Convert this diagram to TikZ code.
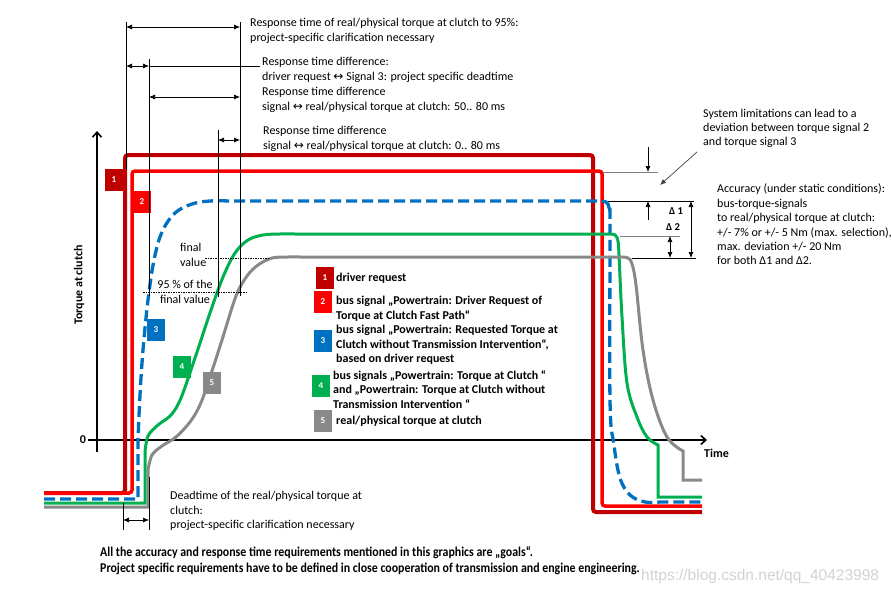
\documentclass[tikz,border=0pt]{standalone}
\usepackage{fontspec}
\setmainfont{Carlito}
\newfontfamily\narrowfont[FakeStretch=0.88]{Carlito}
\newfontfamily\symfont{DejaVu Sans}
\newfontfamily\wmfont{Liberation Sans}
\usetikzlibrary{arrows.meta}
\usetikzlibrary{positioning}
\definecolor{drvred}{HTML}{C00000}
\definecolor{busred}{HTML}{FF0000}
\definecolor{busblue}{HTML}{0070C0}
\definecolor{busgreen}{HTML}{00B050}
\definecolor{realgray}{HTML}{898989}
\newcommand{\lrarr}{{\symfont\char"2194}}
\tikzset{chartaxis/.style = {-{Straight Barb[length=5pt,width=9pt]}, line width=1.6pt},
         dim/.style = {{Latex[length=6pt,width=5pt]}-{Latex[length=6pt,width=5pt]}, line width=0.7pt},
         pointer/.style = {-{Latex[length=6pt,width=5pt]}, line width=0.7pt},
         guide/.style = {line width=0.6pt},
         cutline/.style = {line width=0.6pt, dash pattern=on 1.5pt off 1pt},
         sigone/.style = {line width=4pt, drvred, rounded corners=3pt},
         sigtwo/.style = {line width=3.5pt, busred, rounded corners=3pt},
         sigthree/.style = {line width=3.3pt, busblue, dash pattern=on 11pt off 5pt},
         sigfour/.style = {line width=3pt, busgreen},
         sigfive/.style = {line width=3pt, realgray},
         note/.style = {font=\fontsize{12}{15}\selectfont, align=left, inner sep=0pt, anchor=north west},
         legtext/.style = {font=\bfseries\fontsize{12}{14.5}\selectfont, align=left, inner sep=0pt, anchor=north west},
         numbox/.style = {fill=#1, text=white, font=\bfseries\fontsize{9}{9}\selectfont, minimum width=18pt, minimum height=22pt, inner sep=0pt},
         axlabel/.style = {font=\bfseries\fontsize{12}{12}\selectfont, inner sep=0pt}}

\begin{document}
\begin{tikzpicture}[x=1pt,y=-1pt]
  \useasboundingbox (0,0) rectangle (891,594);

  % axes
  \draw[chartaxis] (97,452) -- (97,131);
  \draw[chartaxis] (88,440) -- (707,440);
  \node[axlabel,rotate=90] (ylab) at (79,285) {Torque at clutch};
  \node[axlabel,anchor=west] (xlab) at (704,453) {Time};
  \node[axlabel] (zero) at (83,440) {0};

  % signals
  \draw[sigone] (44,493) -- (125,493) -- (125,155) -- (593,155) -- (593,512) -- (702,512);
  \draw[sigtwo] (44,493) -- (132,493) -- (132,171) -- (602,171) -- (602,506) -- (702,506);
  \draw[sigthree] (44,499) -- (138,499) -- plot[smooth,tension=0.6] coordinates {(138,440) (140,395) (143,350) (148,300) (154,260) (162,232) (175,213) (192,204) (210,201) (230,201)}
        -- plot[smooth,tension=0.6] coordinates {(598,201) (606,202) (609,208) (610,225) (610,400) (614,445) (620,478) (630,495) (645,502) (660,502)} -- (702,502);
  \draw[sigfour] (44,503) -- (145,503) -- plot[smooth,tension=0.55] coordinates {(145,452) (148,436) (158,425) (171,415) (181,398) (196,355) (211,310) (223,277) (235,253) (248,240) (263,235) (280,234) (295,234)}
        -- plot[smooth,tension=0.6] coordinates {(608,234) (615,235) (618,241) (619,255) (622,317) (627,383) (637,417) (647,437) (658,445)} -- (658,497) -- (702,497);
  \draw[sigfive] (44,507) -- (148,507) -- plot[smooth,tension=0.55] coordinates {(148,470) (152,455) (162,446) (176,437) (190,422) (200,405) (209,380) (222,340) (236,296) (247,276) (258,265) (272,258) (288,257) (300,257)}
        -- plot[smooth,tension=0.6] coordinates {(620,257) (628,258) (632,264) (636,285) (643,350) (653,400) (667,437) (683,451)} -- (683,480) -- (702,480);

  % signal tags
  \node[numbox=drvred] (n1) at (114,180) {1};
  \node[numbox=busred] (n2) at (142,202) {2};
  \node[numbox=busblue] (n3) at (156,330) {3};
  \node[numbox=busgreen] (n4) at (182,367) {4};
  \node[numbox=realgray] (n5) at (212,383) {5};

  % legend
  \node[numbox=drvred] (l1) at (325,278) {1};
  \node[numbox=busred] (l2) at (323,302) {2};
  \node[numbox=busblue] (l3) at (323,341) {3};
  \node[numbox=busgreen] (l4) at (321,386) {4};
  \node[numbox=realgray] (l5) at (323,421) {5};
  \node[legtext,anchor=west] (t1) at (336,278) {driver request};
  \node[legtext] (t2) at (336,296) {bus signal „Powertrain: Driver Request of\\Torque at Clutch Fast Path“};
  \node[legtext] (t3) at (336,325) {bus signal „Powertrain: Requested Torque at\\Clutch without Transmission Intervention“,\\based on driver request};
  \node[legtext] (t4) at (333,370) {bus signals „Powertrain: Torque at Clutch “\\and „Powertrain: Torque at Clutch without\\Transmission Intervention “};
  \node[legtext,anchor=west] (t5) at (336,421) {real/physical torque at clutch};

  % response times
  \coordinate (req) at (126,22);
  \coordinate (sig) at (149,59);
  \coordinate (bus) at (218,130);
  \coordinate (act) at (240,22);
  \draw[guide] (req) -- (126,170);
  \draw[guide] (sig) -- (149,296);
  \draw[guide] (bus) -- (218,297);
  \draw[guide] (act) -- (240,296);
  \draw[dim] (req |- 0,27) -- (act |- 0,27);
  \draw[dim] (req |- 0,66) -- (sig |- 0,66);
  \draw[guide] (sig |- 0,66) -- (260,66);
  \draw[dim] (sig |- 0,97) -- (act |- 0,97);
  \draw[dim] (bus |- 0,140) -- (act |- 0,140);
  \node[note] (resp95) at (250,18) {Response time of real/physical torque at clutch to 95\%:\\project-specific clarification necessary};
  \node[note] (deadsig) at (262,57) {Response time difference:\\driver request \lrarr\ Signal 3: project specific deadtime};
  \node[note] (respa) at (262,87) {Response time difference\\signal \lrarr\ real/physical torque at clutch: 50.. 80 ms};
  \node[note] (respb) at (263,126) {Response time difference\\signal \lrarr\ real/physical torque at clutch: 0.. 80 ms};

  % final value marks
  \draw[cutline] (205,258) -- (270,258);
  \draw[cutline] (143,292) -- (247,292);
  \node[note] (finalv) at (180,243) {final\\value};
  \node[note,anchor=north,align=center] (pct95) at (185,280) {95 \% of the\\final value};

  % accuracy
  \draw[guide,gray] (603,172) -- (658,172);
  \draw[guide] (608,201) -- (694,201);
  \draw[guide,gray] (620,236) -- (680,236);
  \draw[guide] (632,258) -- (696,258);
  \coordinate (lima) at (648,147);
  \coordinate (limb) at (648,220);
  \draw[pointer] (lima) -- (648,172);
  \draw[pointer] (limb) -- (648,201);
  \draw[dim] (691,201) -- (691,258);
  \draw[dim] (670,236) -- (670,258);
  \node[axlabel,font=\bfseries\fontsize{10.5}{10.5}\selectfont] (d1) at (676,211) {Δ 1};
  \node[axlabel,font=\bfseries\fontsize{10.5}{10.5}\selectfont] (d2) at (673,227) {Δ 2};
  \node[note,font=\fontsize{12}{14}\selectfont] (syslim) at (703,109) {System limitations can lead to a\\deviation between torque signal 2\\and torque signal 3};
  \coordinate (syshint) at (660,185);
  \draw[pointer,darkgray] (697,152) -- (syshint);
  \node[note,font=\fontsize{12}{14.4}\selectfont] (accur) at (717,184) {Accuracy (under static conditions):\\bus-torque-signals\\to real/physical torque at clutch:\\+/- 7\% or +/- 5 Nm (max. selection),\\max. deviation +/- 20 Nm\\for both Δ1 and Δ2.};

  % dead time
  \coordinate (dta) at (123,503);
  \coordinate (dtb) at (149,477);
  \draw[guide] (dta) -- (123,530);
  \draw[guide] (dtb) -- (149,530);
  \draw[dim] (dta |- 0,520) -- (dtb |- 0,520);
  \node[note,font=\fontsize{12}{14.5}\selectfont] (deadt) at (170,491) {Deadtime of the real/physical torque at\\clutch:\\project-specific clarification necessary};

  % remarks
  \node[note,font=\narrowfont\bfseries\fontsize{13.5}{16}\selectfont] (goals) at (100,546) {All the accuracy and response time requirements mentioned in this graphics are „goals“.\\Project specific requirements have to be defined in close cooperation of transmission and engine engineering.};
  \node[anchor=west,inner sep=0pt,text=gray!35,font=\wmfont\fontsize{15.5}{15.5}\selectfont] (wm) at (641,576) {https://blog.csdn.net/qq\_40423998};
\end{tikzpicture}
\end{document}
